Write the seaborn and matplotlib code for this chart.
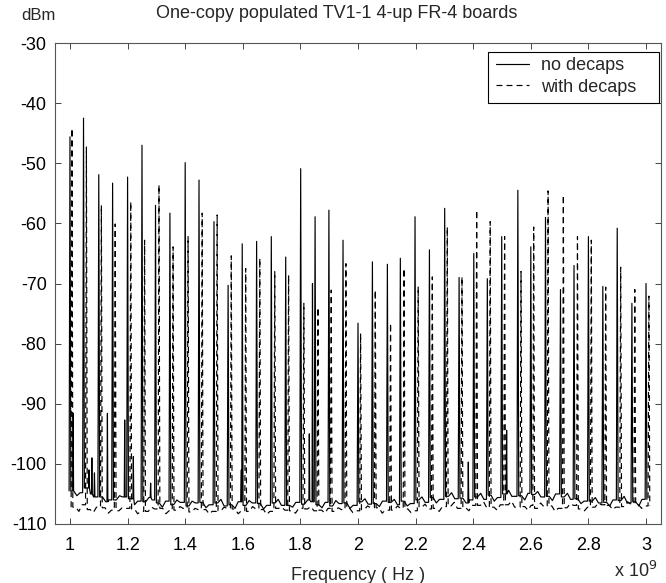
import numpy as np
import pandas as pd
import matplotlib
matplotlib.use("Agg")
import matplotlib.pyplot as plt
import matplotlib.patches as mpatches
import seaborn as sns

# ---------------- data ----------------
# frequencies in GHz (axis shows x 10^9 Hz), levels in dBm
solid_f = [1.000, 1.047, 1.100, 1.148, 1.200, 1.250, 1.297, 1.347, 1.400, 1.448,
           1.500, 1.549, 1.598, 1.648, 1.699, 1.749, 1.801, 1.851, 1.899, 1.948,
           2.000, 2.050, 2.102, 2.147, 2.198, 2.248, 2.301, 2.351, 2.402, 2.449,
           2.499, 2.555, 2.600, 2.651, 2.703, 2.750, 2.800, 2.850, 2.900, 2.951,
           3.000]
solid_h = [-45.6, -42.5, -51.9, -53.3, -52.3, -47.0, -57.0, -58.3, -49.9, -52.8,
           -59.7, -70.3, -63.4, -63.0, -62.2, -65.6, -50.9, -58.9, -57.8, -62.8,
           -76.6, -66.4, -66.8, -65.8, -58.9, -64.4, -57.5, -69.0, -65.0, -69.2,
           -62.2, -54.5, -63.9, -59.0, -71.0, -67.0, -62.2, -70.5, -60.8, -73.3,
           -70.0]
dashed_f = [1.007, 1.057, 1.109, 1.157, 1.211, 1.259, 1.309, 1.358, 1.410, 1.459,
            1.511, 1.560, 1.610, 1.659, 1.711, 1.759, 1.812, 1.861, 1.907, 1.958,
            2.009, 2.060, 2.113, 2.160, 2.209, 2.258, 2.310, 2.361, 2.412, 2.459,
            2.509, 2.566, 2.610, 2.660, 2.713, 2.762, 2.810, 2.860, 2.912, 2.961,
            3.010]
dashed_h = [-44.2, -47.3, -57.0, -60.1, -56.4, -62.8, -53.6, -63.9, -62.2, -58.3,
            -58.6, -65.4, -67.5, -65.8, -68.0, -68.6, -73.3, -74.0, -71.1, -66.7,
            -78.3, -71.1, -76.6, -67.5, -70.5, -68.9, -60.6, -68.9, -57.8, -59.7,
            -62.2, -68.0, -60.6, -54.6, -55.3, -62.2, -62.8, -70.6, -67.3, -71.0,
            -72.1]
# small spurs on the "no decaps" trace
spur_f = [1.011, 1.066, 1.076, 1.085, 1.130, 1.190, 1.220, 1.280, 1.595, 1.831,
          1.842, 2.383, 2.516]
spur_h = [-91.6, -101.0, -99.0, -101.5, -91.6, -92.7, -98.8, -103.2, -101.0, -95.0,
          -70.0, -99.7, -94.4]
# noise floor samples: three per gap between consecutive peaks
solid_floor_a = [-104.5, -104.0, -105.5, -106.0, -105.8, -106.3, -106.5, -106.8, -107.0, -106.4,
                 -106.5, -106.8, -106.9, -106.6, -106.5, -106.9, -106.7, -106.8, -107.0, -106.5,
                 -106.3, -106.6, -106.4, -106.2, -106.0, -105.6, -105.4, -105.7, -105.5, -105.2,
                 -105.0, -105.3, -105.1, -105.4, -105.5, -105.8, -106.2, -106.4, -106.1, -106.3]
solid_floor_m = [-105.3, -105.0, -106.3, -105.3, -106.8, -105.6, -107.2, -106.0, -106.2, -107.3,
                 -105.9, -107.4, -106.1, -107.5, -105.9, -107.2, -106.0, -107.3, -106.1, -107.4,
                 -105.8, -107.1, -105.9, -107.0, -105.5, -106.5, -104.8, -106.5, -104.9, -106.2,
                 -104.4, -106.0, -104.6, -106.1, -104.9, -106.6, -105.6, -107.0, -105.4, -107.0]
solid_floor_b = [-104.8, -105.5, -106.0, -105.5, -106.2, -106.0, -106.2, -106.4, -106.5, -106.8,
                 -107.0, -106.3, -106.5, -106.9, -106.9, -106.4, -106.3, -106.4, -106.6, -106.9,
                 -106.7, -106.2, -106.8, -106.6, -106.4, -105.9, -105.8, -106.0, -105.9, -105.6,
                 -105.4, -104.9, -105.5, -105.0, -105.9, -106.2, -106.5, -106.0, -106.5, -105.9]
dashed_floor_a = [-107.2, -107.6, -107.3, -107.8, -107.5, -107.9, -107.4, -107.7, -108.0, -107.6,
                  -107.8, -107.5, -107.9, -107.6, -107.4, -107.8, -107.5, -107.7, -107.9, -107.4,
                  -107.6, -107.3, -107.7, -107.5, -107.2, -107.4, -107.0, -107.3, -106.9, -107.2,
                  -106.8, -107.1, -107.4, -107.0, -107.3, -107.5, -107.2, -106.9, -107.1, -106.8]
dashed_floor_m = [-107.9, -108.1, -108.2, -107.3, -108.3, -107.2, -108.3, -107.1, -107.4, -108.3,
                  -107.2, -108.3, -107.1, -108.4, -107.2, -108.2, -107.1, -108.2, -107.3, -108.1,
                  -107.0, -108.2, -107.0, -108.1, -106.7, -107.9, -106.4, -107.8, -106.3, -107.7,
                  -106.2, -107.7, -106.5, -107.9, -106.6, -107.8, -106.5, -107.6, -106.3, -107.4]
dashed_floor_b = [-106.8, -107.2, -107.7, -107.4, -107.9, -107.5, -107.8, -107.4, -107.6, -107.9,
                  -107.4, -107.8, -107.5, -107.9, -107.7, -107.4, -107.8, -107.4, -107.6, -107.8,
                  -107.3, -107.7, -107.4, -107.8, -107.5, -107.1, -107.4, -106.9, -107.3, -106.8,
                  -107.2, -106.9, -107.1, -107.4, -106.9, -107.2, -106.8, -107.2, -106.7, -107.0]

yticks = [-110, -100, -90, -80, -70, -60, -50, -40, -30]
ytick_labels = ["-110", "-100", "-90", "-80", "-70", "-60", "-50", "-40", "-30"]
xticks = [1.0, 1.2, 1.4, 1.6, 1.8, 2.0, 2.2, 2.4, 2.6, 2.8, 3.0]
xtick_labels = ["1", "1.2", "1.4", "1.6", "1.8", "2", "2.2", "2.4", "2.6", "2.8", "3"]
series_names = ["no decaps", "with decaps"]
title_text = "One-copy populated TV1-1 4-up FR-4 boards"


def build_trace(pf, ph, fa, fm, fb, sf=(), sh=()):
    hw = 0.003          # half width of a spectral line at its foot
    offs = (0.013, 0.024, 0.035)
    xs, ys = [], []
    start = fa[0]
    for i, (f, h) in enumerate(zip(pf, ph)):
        left = start if i == 0 else fb[i - 1]
        right = fa[i] if i < len(fa) else fb[-1]
        xs += [f - hw, f, f + hw]
        ys += [left, h, right]
        if i < len(fa):
            xs += [f + offs[0], f + offs[1], f + offs[2]]
            ys += [fa[i], fm[i], fb[i]]
    # spurs: narrow triangles sitting on the local floor
    for f, h in zip(sf, sh):
        idx = int(np.searchsorted(np.array(sorted(xs)), f))
        base = ys[int(np.argsort(xs)[max(idx - 1, 0)])]
        xs += [f - 0.0015, f, f + 0.0015]
        ys += [base, h, base]
    order = np.argsort(xs, kind="stable")
    return pd.DataFrame({"freq": np.array(xs)[order], "level": np.array(ys)[order]})


solid_df = build_trace(solid_f, solid_h, solid_floor_a, solid_floor_m, solid_floor_b,
                       spur_f, spur_h)
dashed_df = build_trace(dashed_f, dashed_h, dashed_floor_a, dashed_floor_m, dashed_floor_b)

# ---------------- figure ----------------
sns.set_theme(style="ticks")
plt.rcParams["font.family"] = ["Liberation Sans", "DejaVu Sans"]

W, H = 666, 583
fig = plt.figure(figsize=(W / 100, H / 100), dpi=100)
fig.patch.set_facecolor("white")
ax = fig.add_axes([55 / W, 1 - 524 / H, 606 / W, 481 / H])
ax.set_facecolor("white")

sns.lineplot(data=solid_df, x="freq", y="level", ax=ax, sort=False, estimator=None,
             color="black", lw=0.85, label=series_names[0])
sns.lineplot(data=dashed_df, x="freq", y="level", ax=ax, sort=False, estimator=None,
             color="black", lw=0.85, linestyle="--", label=series_names[1])
ax.lines[1].set_dashes([5, 3.5])

ax.set_xlim(0.948, 3.052)
ax.set_ylim(-110, -30)
ax.set_xticks(xticks)
ax.set_xticklabels(xtick_labels)
ax.set_yticks(yticks)
ax.set_yticklabels(ytick_labels)
ax.tick_params(which="major", direction="in", length=4.5, width=0.7, color="#444444",
               labelcolor="black", labelsize=13, top=True, right=True,
               bottom=True, left=True)
ax.tick_params(axis="x", pad=9)
ax.tick_params(axis="y", pad=6)
ax.minorticks_off()
for s in ax.spines.values():
    s.set_visible(True)
    s.set_color("#555555")
    s.set_linewidth(0.8)
ax.set_xlabel("Frequency ( Hz )", fontsize=13, labelpad=10)
ax.set_ylabel("")

# legend: MATLAB-style box drawn separately (extra space on the right)
leg = ax.legend(loc="upper left", bbox_to_anchor=(496 / W, 1 - 57 / H),
                bbox_transform=fig.transFigure, borderaxespad=0, fontsize=13,
                frameon=False, handlelength=1.85, handletextpad=0.65,
                labelspacing=0.25, borderpad=0)
leg.get_lines()[1].set_dashes([5, 3.5])
frame = mpatches.Rectangle((488 / W, 1 - 103 / H), 171 / W, 51 / H,
                           transform=fig.transFigure, facecolor="white",
                           edgecolor="black", lw=0.8, zorder=4)
fig.add_artist(frame)
leg.set_zorder(5)
fig.add_artist(leg)

fig.text(337 / W, 1 - 13 / H, title_text, ha="center", va="center", fontsize=13)
fig.text(38 / W, 1 - 15 / H, "dBm", ha="center", va="center", fontsize=12)
fig.text(636 / W, 1 - 571 / H, r"x 10$^9$", ha="center", va="center", fontsize=13)

fig.savefig("out.png", dpi=100, facecolor="white")
